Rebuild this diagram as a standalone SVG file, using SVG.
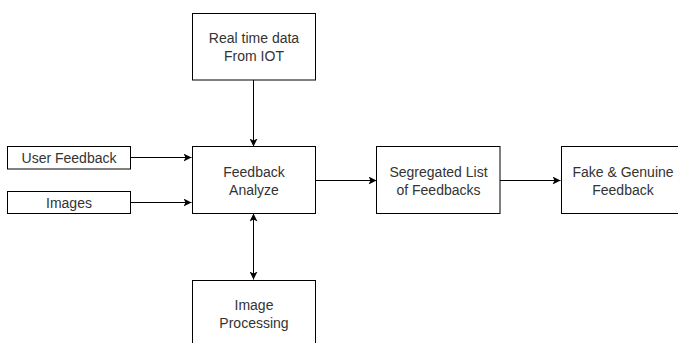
<svg xmlns="http://www.w3.org/2000/svg" width="678" height="343" viewBox="0 0 678 343">
<style>
.box{fill:#fff;stroke:#000;stroke-width:1}
.t{font-family:"Liberation Sans",Arial,sans-serif;font-size:14px;fill:#333;text-anchor:middle}
.c{stroke:#000;stroke-width:1;fill:none}
</style>
<defs>
<marker id="ah" viewBox="0 0 10 10" refX="10" refY="5" markerWidth="8" markerHeight="8" markerUnits="userSpaceOnUse" orient="auto-start-reverse">
<path d="M0,0 L10,5 L0,10 L2.5,5 Z" fill="#000"/>
</marker>
</defs>
<rect width="678" height="343" fill="#fff"/>
<g id="connectors">
<line class="c" x1="253.5" y1="80" x2="253.5" y2="146.5" marker-end="url(#ah)"/>
<line class="c" x1="130" y1="157.5" x2="191.5" y2="157.5" marker-end="url(#ah)"/>
<line class="c" x1="130" y1="202.5" x2="191.5" y2="202.5" marker-end="url(#ah)"/>
<line class="c" x1="253.5" y1="213.5" x2="253.5" y2="279.5" marker-start="url(#ah)" marker-end="url(#ah)"/>
<line class="c" x1="315" y1="180.5" x2="376.5" y2="180.5" marker-end="url(#ah)"/>
<line class="c" x1="500" y1="180.5" x2="560.5" y2="180.5" marker-end="url(#ah)"/>
</g>
<g id="realtime">
<rect class="box" x="192.5" y="13.5" width="123" height="66.5"/>
<text class="t" x="254" y="42.5">Real time data</text>
<text class="t" x="254" y="60.5">From IOT</text>
</g>
<g id="userfeedback">
<rect class="box" x="7.5" y="146.5" width="123" height="22.5"/>
<text class="t" x="69" y="162.5">User Feedback</text>
</g>
<g id="images">
<rect class="box" x="7.5" y="191.5" width="123" height="22"/>
<text class="t" x="69" y="207.5">Images</text>
</g>
<g id="analyze">
<rect class="box" x="192.5" y="146.5" width="123" height="67"/>
<text class="t" x="254" y="176.5">Feedback</text>
<text class="t" x="254" y="194.5">Analyze</text>
</g>
<g id="imageprocessing">
<rect class="box" x="192.5" y="280.5" width="123" height="67"/>
<text class="t" x="254" y="310">Image</text>
<text class="t" x="254" y="328">Processing</text>
</g>
<g id="segregated">
<rect class="box" x="376.5" y="146.5" width="123.5" height="67"/>
<text class="t" x="438.5" y="176.5">Segregated List</text>
<text class="t" x="438.5" y="194.5">of Feedbacks</text>
</g>
<g id="fake">
<rect class="box" x="561.5" y="146.5" width="123" height="67"/>
<text class="t" x="623" y="176.5">Fake &amp; Genuine</text>
<text class="t" x="623" y="194.5">Feedback</text>
</g>
</svg>
